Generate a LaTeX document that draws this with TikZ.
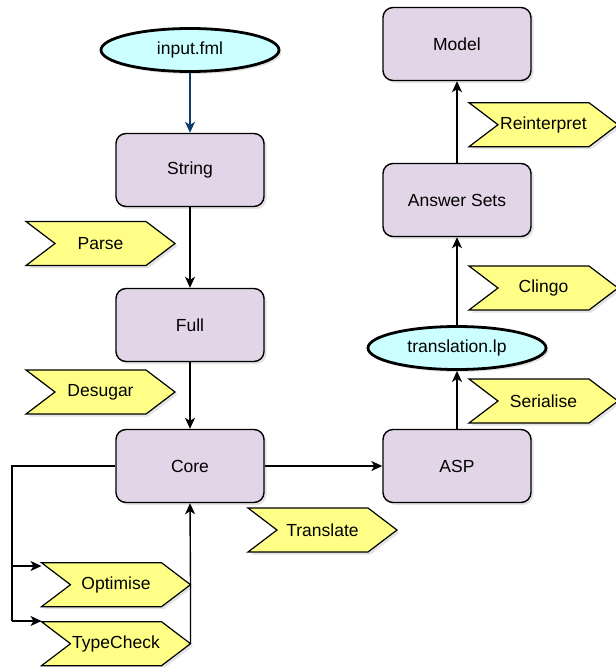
\documentclass[tikz,border=0pt]{standalone}
\usepackage{fontspec}
\setmainfont{Liberation Sans}
\usetikzlibrary{shapes.geometric,arrows.meta,shadows}
\definecolor{boxfill}{HTML}{E1D5E7}
\definecolor{ellfill}{HTML}{CCFFFF}
\definecolor{tagfill}{HTML}{FFFF88}
\definecolor{navy}{HTML}{0B3D6B}
\tikzset{
  shad/.style={drop shadow={opacity=0.22,shadow xshift=2.5pt,shadow yshift=-2.5pt}},
  stage/.style={draw=black,line width=1.4pt,fill=boxfill,rounded corners=10pt,
    minimum width=148pt,minimum height=73pt,inner sep=0pt,shad,
    font=\fontsize{17.5}{20}\selectfont},
  fileell/.style={ellipse,draw=black,line width=2.8pt,fill=ellfill,
    minimum width=178pt,minimum height=43pt,inner sep=0pt,shad,
    font=\fontsize{17.5}{20}\selectfont},
  tagbody/.style={draw=black,line width=1.2pt,fill=tagfill,line join=miter,shad},
  tagtext/.style={inner sep=0pt,font=\fontsize{17.5}{20}\selectfont},
  conn/.style={line width=1.4pt,-{Stealth[length=11pt,width=10pt,inset=3pt]}},
  plain/.style={line width=1.4pt},
}
\newcommand\tagat[3]{%
  \draw[tagbody,shift={#2}] (-74.5,-22) -- (45.5,-22) -- (74.5,0) -- (45.5,22) -- (-74.5,22) -- (-45.5,0) -- cycle;
  \coordinate[shift={#2}] (#1-tip) at (74.5,0);
  \coordinate[shift={#2}] (#1-tl) at (-74.5,-22);
  \node[tagtext] (#1) at #2 {#3};}
\begin{document}
\begin{tikzpicture}[x=1pt,y=-1pt]
\useasboundingbox (0,0) rectangle (616,667);
% tags
\tagat{parse}{(100.5,243.5)}{Parse}
\tagat{desugar}{(100.5,392)}{Desugar}
\tagat{optimise}{(116,584.7)}{Optimise}
\tagat{typecheck}{(116,643.7)}{TypeCheck}
\tagat{translate}{(322.5,530)}{Translate}
\tagat{reinterpret}{(543.5,124.7)}{Reinterpret}
\tagat{clingo}{(543.5,288)}{Clingo}
\tagat{serialise}{(543.5,401)}{Serialise}
% stages
\node[fileell] (input) at (190,50) {input.fml};
\node[stage] (string) at (190,170) {String};
\node[stage] (full) at (190,325) {Full};
\node[stage] (core) at (190,466) {Core};
\node[stage] (asp) at (457,466) {ASP};
\node[fileell] (tlp) at (457,348) {translation.lp};
\node[stage] (answers) at (457,200) {Answer Sets};
\node[stage] (model) at (457,44) {Model};
% connectors
\draw[conn,draw=navy,fill=navy] (input) -- (string);
\draw[conn] (string) -- (full);
\draw[conn] (full) -- (core);
\draw[conn] (core) -- (asp);
\draw[conn] (asp) -- (tlp);
\draw[conn] (tlp) -- (answers);
\draw[conn] (answers) -- (model);
\coordinate (loopL) at (12,466);
\coordinate (loopA) at (12,566);
\coordinate (loopB) at (12,621);
\draw[plain] (core.west) -- (loopL) -- (loopB);
\draw[conn] (loopA) -- (optimise-tl |- loopA);
\draw[conn] (loopB) -- (typecheck-tl |- loopB);
\draw[conn] (typecheck-tip) -- (optimise-tip) -- (core.south);
\end{tikzpicture}
\end{document}
